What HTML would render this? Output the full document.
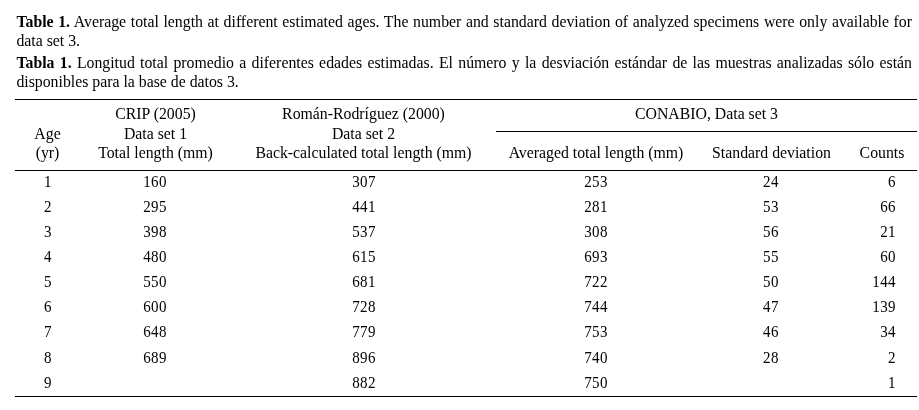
<!DOCTYPE html>
<html lang="en">
<head>
<meta charset="utf-8">
<title>Table 1</title>
<style>
html,body{margin:0;padding:0;background:#fff;}
body{width:919px;height:410px;position:relative;overflow:hidden;font-family:"Liberation Serif","Times New Roman",serif;font-size:15.8px;color:#000;line-height:20px;}
.t{position:absolute;white-space:nowrap;height:20px;line-height:20px;}
.c{transform:translateX(-50%);text-align:center;}
.d{letter-spacing:0.4px;margin-right:-0.4px;}
.c.d{transform:translateX(-50%) scaleX(0.95);}
.r.d{transform:translateX(-100%) scaleX(0.95);transform-origin:100% 50%;}
.r{transform:translateX(-100%);text-align:right;}
.j{position:absolute;left:16.4px;width:895.6px;text-align:justify;text-align-last:justify;white-space:nowrap;height:20px;line-height:20px;}
.hr{position:absolute;height:1px;background:#000;}
b{font-weight:bold;}
</style>
</head>
<body>
<div class="j" style="top:11.67px"><b>Table 1.</b> Average total length at different estimated ages. The number and standard deviation of analyzed specimens were only available for</div>
<div class="t" style="left:16.4px;top:30.67px">data set 3.</div>
<div class="j" style="top:52.67px"><b>Tabla 1.</b> Longitud total promedio a diferentes edades estimadas. El número y la desviación estándar de las muestras analizadas sólo están</div>
<div class="t" style="left:16.4px;top:71.67px">disponibles para la base de datos 3.</div>
<div class="hr" style="left:15px;top:99px;width:902px"></div>
<div class="hr" style="left:496px;top:131px;width:421px"></div>
<div class="hr" style="left:15px;top:170px;width:902px"></div>
<div class="hr" style="left:15px;top:396px;width:902px"></div>
<div class="t c" style="left:155.50px;top:104.17px">CRIP (2005)</div>
<div class="t c" style="left:363.50px;top:104.17px">Román-Rodríguez (2000)</div>
<div class="t c" style="left:706.50px;top:104.17px">CONABIO, Data set 3</div>
<div class="t c" style="left:47.50px;top:123.67px">Age</div>
<div class="t c" style="left:155.50px;top:123.67px">Data set 1</div>
<div class="t c" style="left:363.50px;top:123.67px">Data set 2</div>
<div class="t c" style="left:47.50px;top:143.17px">(yr)</div>
<div class="t c" style="left:155.50px;top:143.17px">Total length (mm)</div>
<div class="t c" style="left:363.50px;top:143.17px">Back-calculated total length (mm)</div>
<div class="t c" style="left:596.00px;top:143.17px">Averaged total length (mm)</div>
<div class="t c" style="left:771.50px;top:143.17px">Standard deviation</div>
<div class="t c" style="left:882.00px;top:143.17px">Counts</div>
<div class="t c d" style="left:47.50px;top:171.67px">1</div>
<div class="t c d" style="left:154.80px;top:171.67px">160</div>
<div class="t c d" style="left:363.50px;top:171.67px">307</div>
<div class="t c d" style="left:596.00px;top:171.67px">253</div>
<div class="t c d" style="left:770.70px;top:171.67px">24</div>
<div class="t r d" style="left:895.70px;top:171.67px">6</div>
<div class="t c d" style="left:47.50px;top:196.67px">2</div>
<div class="t c d" style="left:154.80px;top:196.67px">295</div>
<div class="t c d" style="left:363.50px;top:196.67px">441</div>
<div class="t c d" style="left:596.00px;top:196.67px">281</div>
<div class="t c d" style="left:770.70px;top:196.67px">53</div>
<div class="t r d" style="left:895.70px;top:196.67px">66</div>
<div class="t c d" style="left:47.50px;top:221.67px">3</div>
<div class="t c d" style="left:154.80px;top:221.67px">398</div>
<div class="t c d" style="left:363.50px;top:221.67px">537</div>
<div class="t c d" style="left:596.00px;top:221.67px">308</div>
<div class="t c d" style="left:770.70px;top:221.67px">56</div>
<div class="t r d" style="left:895.70px;top:221.67px">21</div>
<div class="t c d" style="left:47.50px;top:246.67px">4</div>
<div class="t c d" style="left:154.80px;top:246.67px">480</div>
<div class="t c d" style="left:363.50px;top:246.67px">615</div>
<div class="t c d" style="left:596.00px;top:246.67px">693</div>
<div class="t c d" style="left:770.70px;top:246.67px">55</div>
<div class="t r d" style="left:895.70px;top:246.67px">60</div>
<div class="t c d" style="left:47.50px;top:271.67px">5</div>
<div class="t c d" style="left:154.80px;top:271.67px">550</div>
<div class="t c d" style="left:363.50px;top:271.67px">681</div>
<div class="t c d" style="left:596.00px;top:271.67px">722</div>
<div class="t c d" style="left:770.70px;top:271.67px">50</div>
<div class="t r d" style="left:895.70px;top:271.67px">144</div>
<div class="t c d" style="left:47.50px;top:296.67px">6</div>
<div class="t c d" style="left:154.80px;top:296.67px">600</div>
<div class="t c d" style="left:363.50px;top:296.67px">728</div>
<div class="t c d" style="left:596.00px;top:296.67px">744</div>
<div class="t c d" style="left:770.70px;top:296.67px">47</div>
<div class="t r d" style="left:895.70px;top:296.67px">139</div>
<div class="t c d" style="left:47.50px;top:321.67px">7</div>
<div class="t c d" style="left:154.80px;top:321.67px">648</div>
<div class="t c d" style="left:363.50px;top:321.67px">779</div>
<div class="t c d" style="left:596.00px;top:321.67px">753</div>
<div class="t c d" style="left:770.70px;top:321.67px">46</div>
<div class="t r d" style="left:895.70px;top:321.67px">34</div>
<div class="t c d" style="left:47.50px;top:347.67px">8</div>
<div class="t c d" style="left:154.80px;top:347.67px">689</div>
<div class="t c d" style="left:363.50px;top:347.67px">896</div>
<div class="t c d" style="left:596.00px;top:347.67px">740</div>
<div class="t c d" style="left:770.70px;top:347.67px">28</div>
<div class="t r d" style="left:895.70px;top:347.67px">2</div>
<div class="t c d" style="left:47.50px;top:372.67px">9</div>
<div class="t c d" style="left:363.50px;top:372.67px">882</div>
<div class="t c d" style="left:596.00px;top:372.67px">750</div>
<div class="t r d" style="left:895.70px;top:372.67px">1</div>
</body>
</html>
